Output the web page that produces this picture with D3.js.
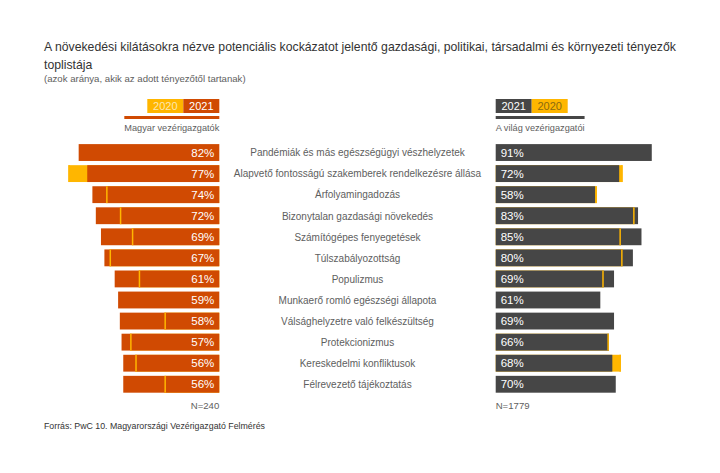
<!DOCTYPE html>
<html>
<head>
<meta charset="utf-8">
<script src="https://cdn.jsdelivr.net/npm/d3@7"></script>
<style>
  html, body { margin: 0; padding: 0; background: #fff; }
  svg { display: block; font-family: "Liberation Sans", Arial, Helvetica, sans-serif; }
</style>
</head>
<body>
<svg id="chart" width="720" height="473"></svg>
<script>
// ---- data ----
const categories = [
  "Pandémiák és más egészségügyi vészhelyzetek",
  "Alapvető fontosságú szakemberek rendelkezésre állása",
  "Árfolyamingadozás",
  "Bizonytalan gazdasági növekedés",
  "Számítógépes fenyegetések",
  "Túlszabályozottság",
  "Populizmus",
  "Munkaerő romló egészségi állapota",
  "Válsághelyzetre való felkészültség",
  "Protekcionizmus",
  "Kereskedelmi konfliktusok",
  "Félrevezető tájékoztatás"
];
const hungary2021 = [82, 77, 74, 72, 69, 67, 61, 59, 58, 57, 56, 56];
const hungary2020 = [null, 88, 66, 58, 51, 64, 47, null, 32, 52, 49, 32];
const global2021  = [91, 72, 58, 83, 85, 80, 69, 61, 69, 66, 68, 70];
const global2020  = [null, 74, 59, 81, 73, 74, 63, null, null, 66, 73, null];
const legendYears = ["2020", "2021"];
const titleLines = [
  "A növekedési kilátásokra nézve potenciális kockázatot jelentő gazdasági, politikai, társadalmi és környezeti tényezők",
  "toplistája"
];
const subtitle = "(azok aránya, akik az adott tényezőtől tartanak)";
const leftLabel = "Magyar vezérigazgatók";
const rightLabel = "A világ vezérigazgatói";
const leftN = "N=240";
const rightN = "N=1779";
const source = "Forrás: PwC 10. Magyarországi Vezérigazgató Felmérés";

// ---- styles ----
const ORANGE = "#d04a02", YELLOW = "#ffb600", DARK = "#464646";
const TEXT = "#333333", LABEL = "#5e5e5e";

const svg = d3.select("#chart");

// ---- scales ----
const leftBase = 219.3, rightBase = 495.7, span = 171.5;
const xL = d3.scaleLinear().domain([0, 100]).range([leftBase, leftBase - span]);
const xR = d3.scaleLinear().domain([0, 100]).range([rightBase, rightBase + span]);
const y = d3.scaleBand().domain(categories).range([142, 394.8]).paddingInner(0.2).paddingOuter(0.1);
const bh = y.bandwidth();

// ---- title ----
svg.selectAll("text.title").data(titleLines).join("text")
  .attr("class", "title")
  .attr("x", 44).attr("y", (d, i) => 51 + i * 18)
  .attr("font-size", 12.25).attr("fill", TEXT)
  .text(d => d);
svg.append("text").attr("x", 44).attr("y", 82)
  .attr("font-size", 9.6).attr("fill", LABEL).text(subtitle);

// ---- legends ----
const legY = 99, legH = 14, legW = 36;
const leftLeg = [
  { t: legendYears[0], fill: YELLOW, tc: "#fde7b0", x0: leftBase - 2 * legW },
  { t: legendYears[1], fill: ORANGE, tc: "#ffffff", x0: leftBase - legW }
];
const rightLeg = [
  { t: legendYears[1], fill: DARK, tc: "#ffffff", x0: rightBase },
  { t: legendYears[0], fill: YELLOW, tc: "#8a6a10", x0: rightBase + legW }
];
[leftLeg, rightLeg].forEach(leg => {
  leg.forEach(d => {
    svg.append("rect").attr("x", d.x0).attr("y", legY).attr("width", legW).attr("height", legH).attr("fill", d.fill);
    svg.append("text").attr("x", d.x0 + legW / 2).attr("y", legY + legH / 2 + 4)
      .attr("text-anchor", "middle").attr("font-size", 11).attr("fill", d.tc).text(d.t);
  });
});

const lblL = svg.append("text").attr("x", leftBase).attr("y", 131).attr("text-anchor", "end")
  .attr("font-size", 9.2).attr("fill", LABEL).text(leftLabel);
const lblR = svg.append("text").attr("x", rightBase).attr("y", 131)
  .attr("font-size", 9.2).attr("fill", LABEL).text(rightLabel);
const wl = lblL.node().getComputedTextLength();
const wr = lblR.node().getComputedTextLength();
svg.append("rect").attr("x", leftBase - wl).attr("y", 116).attr("width", wl).attr("height", 3).attr("fill", ORANGE);
svg.append("rect").attr("x", rightBase).attr("y", 116).attr("width", wr).attr("height", 3).attr("fill", DARK);

// ---- rows ----
const rows = categories.map((c, i) => ({
  c, h21: hungary2021[i], h20: hungary2020[i], g21: global2021[i], g20: global2020[i]
}));
const mw = 1.5;

const g = svg.append("g");
rows.forEach(d => {
  const y0 = y(d.c);
  // left side
  if (d.h20 != null) {
    g.append("rect").attr("x", xL(d.h20)).attr("y", y0).attr("width", leftBase - xL(d.h20)).attr("height", bh).attr("fill", YELLOW);
  }
  g.append("rect").attr("x", xL(d.h21)).attr("y", y0).attr("width", leftBase - xL(d.h21)).attr("height", bh).attr("fill", ORANGE);
  if (d.h20 != null) {
    g.append("rect").attr("x", xL(d.h20)).attr("y", y0).attr("width", mw).attr("height", bh).attr("fill", YELLOW);
  }
  g.append("text").attr("x", leftBase - 5).attr("y", y0 + bh / 2 + 4.2)
    .attr("text-anchor", "end").attr("font-size", 11.5).attr("fill", "#fff").text(d.h21 + "%");

  // right side
  if (d.g20 != null) {
    g.append("rect").attr("x", rightBase).attr("y", y0).attr("width", xR(d.g20) - rightBase).attr("height", bh).attr("fill", YELLOW);
  }
  g.append("rect").attr("x", rightBase).attr("y", y0).attr("width", xR(d.g21) - rightBase).attr("height", bh).attr("fill", DARK);
  if (d.g20 != null) {
    g.append("rect").attr("x", xR(d.g20) - mw).attr("y", y0).attr("width", mw).attr("height", bh).attr("fill", YELLOW);
  }
  g.append("text").attr("x", rightBase + 5).attr("y", y0 + bh / 2 + 4.2)
    .attr("font-size", 11.5).attr("fill", "#fff").text(d.g21 + "%");

  // category label
  g.append("text").attr("x", (leftBase + rightBase) / 2).attr("y", y0 + bh / 2 + 3.8)
    .attr("text-anchor", "middle").attr("font-size", 10).attr("fill", LABEL).text(d.c);
});

// ---- N labels & source ----
svg.append("text").attr("x", leftBase).attr("y", 409).attr("text-anchor", "end")
  .attr("font-size", 9.6).attr("fill", LABEL).text(leftN);
svg.append("text").attr("x", rightBase).attr("y", 409)
  .attr("font-size", 9.6).attr("fill", LABEL).text(rightN);
svg.append("text").attr("x", 44).attr("y", 429)
  .attr("font-size", 8.8).attr("fill", TEXT).text(source);
</script>
</body>
</html>
